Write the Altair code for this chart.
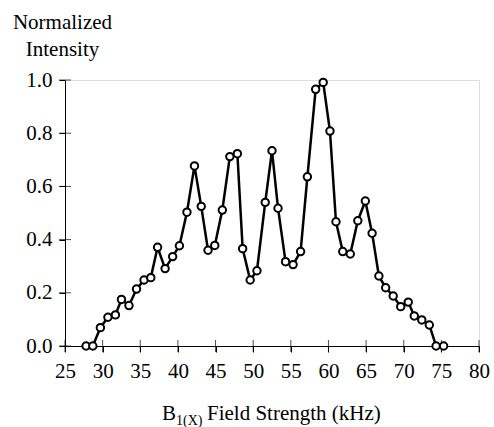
import altair as alt
import pandas as pd

field_khz = [27.8, 28.7, 29.7, 30.7, 31.7, 32.5, 33.5, 34.5, 35.5, 36.4,
             37.3, 38.3, 39.3, 40.2, 41.2, 42.2, 43.1, 44.0, 44.9, 45.9,
             46.9, 47.9, 48.6, 49.6, 50.5, 51.6, 52.5, 53.3, 54.3, 55.3,
             56.3, 57.2, 58.3, 59.3, 60.2, 61.0, 61.9, 62.9, 63.9, 64.9,
             65.8, 66.7, 67.6, 68.6, 69.6, 70.6, 71.4, 72.4, 73.4, 74.3, 75.3]
intensity = [0.0, 0.0, 0.069, 0.108, 0.117, 0.175, 0.152, 0.214, 0.248, 0.257,
             0.371, 0.291, 0.336, 0.377, 0.503, 0.677, 0.525, 0.360, 0.378, 0.511,
             0.712, 0.723, 0.366, 0.248, 0.283, 0.540, 0.734, 0.518, 0.317, 0.306,
             0.355, 0.636, 0.965, 0.991, 0.808, 0.467, 0.355, 0.346, 0.471, 0.545,
             0.424, 0.263, 0.219, 0.188, 0.148, 0.165, 0.113, 0.098, 0.079, 0.0, 0.0]
x_ticks = [25, 30, 35, 40, 45, 50, 55, 60, 65, 70, 75, 80]
y_ticks = [0.0, 0.2, 0.4, 0.6, 0.8, 1.0]
title_parts = ["B", "1(X)", "Field Strength (kHz)"]

FONT = "Liberation Serif"

df = pd.DataFrame({"f": field_khz, "i": intensity})
xt = pd.DataFrame({"t": x_ticks, "z": [0.0] * len(x_ticks)})
yt = pd.DataFrame({"t": y_ticks, "z": [25] * len(y_ticks)})
one = pd.DataFrame({"k": [0]})

xscale = alt.Scale(domain=[25, 80], nice=False, zero=False)
yscale = alt.Scale(domain=[0, 1], nice=False)

xaxis = alt.Axis(values=x_ticks, format="d", title=None, grid=False,
                 tickSize=6, tickColor="black", domainColor="black",
                 labelFont=FONT, labelFontSize=21, labelColor="black",
                 labelPadding=8, labelFlush=False, labelOverlap=False,
                 labelBound=False)
yaxis = alt.Axis(values=y_ticks, format=".1f", grid=False,
                 title=["Normalized", "Intensity"], titleAngle=0,
                 titleAlign="center", titleBaseline="alphabetic",
                 titleX=-3, titleY=-52, titleFont=FONT, titleFontSize=21,
                 titleFontWeight="normal", titleColor="black", titleLineHeight=27,
                 tickSize=6, tickColor="black", domainColor="black",
                 labelFont=FONT, labelFontSize=21, labelColor="black",
                 labelPadding=7, labelFlush=False, labelOverlap=False)

xtick = alt.Chart(xt).mark_tick(orient="vertical", size=12, thickness=1,
                                color="black").encode(
    x=alt.X("t:Q", scale=xscale, axis=xaxis),
    y=alt.Y("z:Q", scale=yscale, axis=yaxis),
)
ytick = alt.Chart(yt).mark_tick(orient="horizontal", size=12, thickness=1,
                                color="black").encode(
    x=alt.X("z:Q", scale=xscale, axis=xaxis),
    y=alt.Y("t:Q", scale=yscale, axis=yaxis),
)
line = alt.Chart(df).mark_line(color="black", strokeWidth=2.5).encode(
    x=alt.X("f:Q", scale=xscale, axis=xaxis),
    y=alt.Y("i:Q", scale=yscale, axis=yaxis),
)
pts = alt.Chart(df).mark_point(shape="circle", filled=True, fill="white",
                               stroke="black", strokeWidth=2, size=55,
                               opacity=1).encode(
    x=alt.X("f:Q", scale=xscale, axis=xaxis),
    y=alt.Y("i:Q", scale=yscale, axis=yaxis),
)

b = alt.Chart(one).mark_text(text=title_parts[0], font=FONT, fontSize=21,
                             align="right", baseline="alphabetic",
                             color="black").encode(
    x=alt.value(111), y=alt.value(340))
sub = alt.Chart(one).mark_text(text=title_parts[1], font=FONT, fontSize=14,
                               align="left", baseline="alphabetic",
                               color="black").encode(
    x=alt.value(111), y=alt.value(345))
rest = alt.Chart(one).mark_text(text=title_parts[2], font=FONT, fontSize=21,
                                align="left", baseline="alphabetic",
                                color="black").encode(
    x=alt.value(142), y=alt.value(340))

chart = alt.layer(xtick, ytick, line, pts, b, sub, rest).properties(
    width=414, height=266,
    autosize=alt.AutoSizeParams(type="none"),
    padding={"left": 65, "top": 80, "right": 15, "bottom": 81},
).configure_view(stroke=None).configure(background="white")

chart.save("out.html", embed_options={"renderer": "svg", "actions": False})
